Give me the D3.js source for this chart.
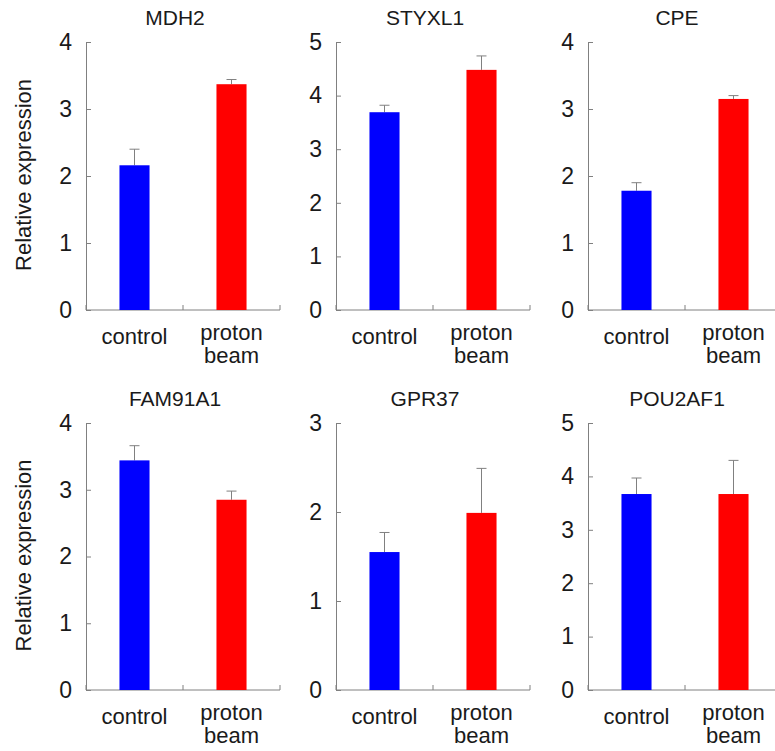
<!DOCTYPE html>
<html>
<head>
<meta charset="utf-8">
<script src="https://cdn.jsdelivr.net/npm/d3@7"></script>
<style>
body { margin: 0; background: #fff; }
text { font-family: "Liberation Sans", Arial, sans-serif; fill: #1a1a1a; }
</style>
</head>
<body>
<script>
var width = 775, height = 751;

// data
var genes = ["MDH2", "STYXL1", "CPE", "FAM91A1", "GPR37", "POU2AF1"];
var groups = ["control", "proton beam"];
var controlMean = [2.16, 3.69, 1.78, 3.44, 1.55, 3.67];
var controlErr = [0.24, 0.13, 0.12, 0.22, 0.22, 0.30];
var protonMean = [3.37, 4.48, 3.15, 2.85, 1.99, 3.67];
var protonErr = [0.07, 0.26, 0.05, 0.13, 0.50, 0.63];
var yMax = [4, 5, 4, 4, 3, 5];
var barColors = ["#0000ff", "#ff0000"];

var colX = [86, 336, 588];
var rowTop = [42, 423];
var rowBottom = [310, 690];
var plotW = 194;
var axisColor = "#808080";

var svg = d3.select("body")
	.append("svg")
	.attr("width", width)
	.attr("height", height);

genes.forEach(function(gene, i){
	var col = i % 3, row = Math.floor(i / 3);
	var g = svg.append("g")
		.attr("transform", "translate(" + colX[col] + "," + rowTop[row] + ")");
	var h = rowBottom[row] - rowTop[row];

	var x = d3.scaleBand().domain(groups).range([0, plotW]);
	var y = d3.scaleLinear().domain([0, yMax[i]]).range([h, 0]);

	var vals = [
		{group: groups[0], mean: controlMean[i], err: controlErr[i], color: barColors[0]},
		{group: groups[1], mean: protonMean[i], err: protonErr[i], color: barColors[1]}
	];

	// y axis
	var yAxis = g.append("g")
		.call(d3.axisLeft(y).ticks(yMax[i]).tickFormat(d3.format("d"))
			.tickSizeInner(-5).tickSizeOuter(0).tickPadding(14));
	yAxis.select(".domain").attr("stroke", axisColor);
	yAxis.selectAll(".tick line").attr("stroke", axisColor);
	yAxis.selectAll(".tick text")
		.attr("font-size", 23)
		.attr("font-family", "Liberation Sans, Arial, sans-serif")
		.attr("fill", "#1a1a1a");

	// x axis line + boundary ticks
	g.append("line")
		.attr("x1", 0).attr("x2", plotW)
		.attr("y1", h).attr("y2", h)
		.attr("stroke", axisColor);
	g.selectAll(".xtick")
		.data(d3.range(groups.length + 1))
		.enter()
		.append("line")
		.attr("x1", function(d){ return d * x.step(); })
		.attr("x2", function(d){ return d * x.step(); })
		.attr("y1", h).attr("y2", h - 5)
		.attr("stroke", axisColor);

	var bw = x.bandwidth() * 0.31;

	// error bars (upper only)
	g.selectAll(".err")
		.data(vals)
		.enter()
		.append("line")
		.attr("x1", function(d){ return x(d.group) + x.bandwidth() / 2; })
		.attr("x2", function(d){ return x(d.group) + x.bandwidth() / 2; })
		.attr("y1", function(d){ return y(d.mean); })
		.attr("y2", function(d){ return y(d.mean + d.err); })
		.attr("stroke", axisColor);
	g.selectAll(".cap")
		.data(vals)
		.enter()
		.append("line")
		.attr("x1", function(d){ return x(d.group) + x.bandwidth() / 2 - 5; })
		.attr("x2", function(d){ return x(d.group) + x.bandwidth() / 2 + 5; })
		.attr("y1", function(d){ return y(d.mean + d.err); })
		.attr("y2", function(d){ return y(d.mean + d.err); })
		.attr("stroke", axisColor);

	// bars
	g.selectAll(".bar")
		.data(vals)
		.enter()
		.append("rect")
		.attr("x", function(d){ return x(d.group) + (x.bandwidth() - bw) / 2; })
		.attr("y", function(d){ return y(d.mean); })
		.attr("width", bw)
		.attr("height", function(d){ return h - y(d.mean); })
		.attr("fill", function(d){ return d.color; });

	// category labels
	g.append("text")
		.attr("x", x(groups[0]) + x.bandwidth() / 2)
		.attr("y", h + 34)
		.attr("text-anchor", "middle")
		.attr("font-size", 22)
		.text(groups[0]);
	var words = groups[1].split(" ");
	g.selectAll(".lbl2")
		.data(words)
		.enter()
		.append("text")
		.attr("x", x(groups[1]) + x.bandwidth() / 2)
		.attr("y", function(d, k){ return h + 30 + k * 23; })
		.attr("text-anchor", "middle")
		.attr("font-size", 22)
		.text(function(d){ return d; });

	// title
	g.append("text")
		.attr("x", plotW / 2 - 8)
		.attr("y", -17)
		.attr("text-anchor", "middle")
		.attr("font-size", 21)
		.text(gene);

	// y label on the first column
	if (col === 0) {
		g.append("text")
			.attr("transform", "translate(" + (31 - colX[col]) + "," + (h / 2 - 1) + ") rotate(-90)")
			.attr("text-anchor", "middle")
			.attr("font-size", 22)
			.text("Relative expression");
	}
});
</script>
</body>
</html>
